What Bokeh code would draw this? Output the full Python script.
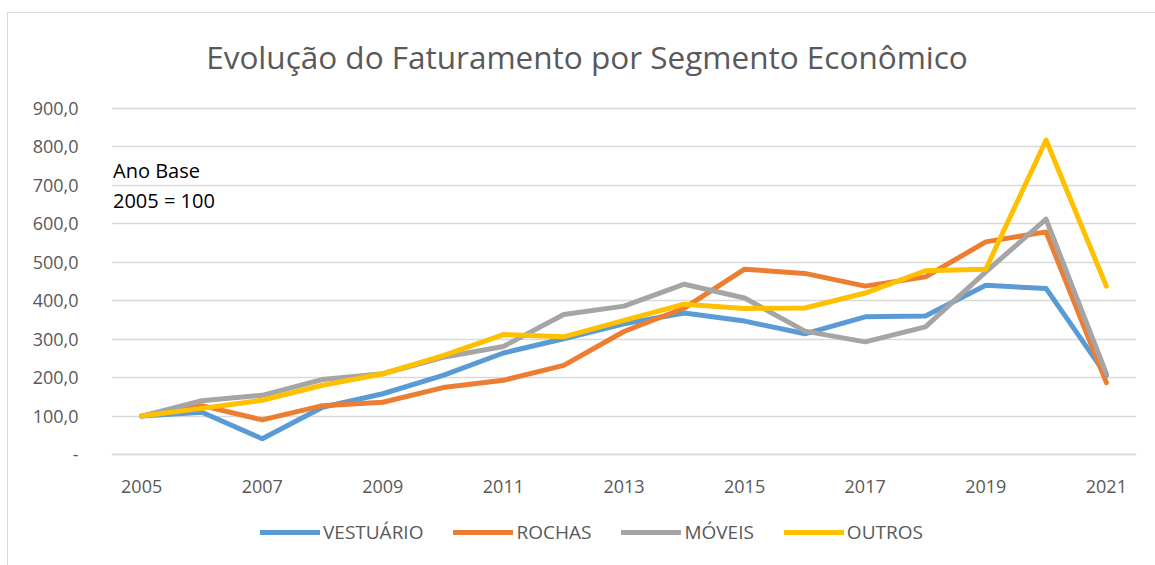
from bokeh.plotting import figure
from bokeh.models import Legend, LegendItem, Label, FixedTicker
from bokeh.embed import file_html
from bokeh.resources import INLINE

years = list(range(2005, 2022))
vestuario = [100, 110, 41, 123, 158, 206, 264, 301, 340, 368, 347, 314, 358, 360, 440, 432, 206]
rochas =    [100, 127, 90, 127, 136, 174, 193, 232, 320, 381, 482, 471, 438, 462, 553, 579, 187]
moveis =    [100, 140, 154, 195, 210, 253, 281, 364, 386, 443, 407, 321, 293, 332, 475, 612, 210]
outros =    [100, 120, 141, 180, 210, 257, 312, 306, 349, 391, 380, 381, 420, 478, 482, 818, 438]

series_names = ["VESTUÁRIO", "ROCHAS", "MÓVEIS", "OUTROS"]
series_values = [vestuario, rochas, moveis, outros]
colors = ["#5B9BD5", "#ED7D31", "#A5A5A5", "#FFC000"]

x_ticks = [2005, 2007, 2009, 2011, 2013, 2015, 2017, 2019, 2021]
x_tick_labels = ["2005", "2007", "2009", "2011", "2013", "2015", "2017", "2019", "2021"]
y_ticks = [0, 100, 200, 300, 400, 500, 600, 700, 800, 900]
y_tick_labels = ["-", "100,0", "200,0", "300,0", "400,0", "500,0", "600,0", "700,0", "800,0", "900,0"]

title_text = "Evolução do Faturamento por Segmento Econômico"
note_lines = ["Ano Base", "2005 = 100"]

FONT = "Open Sans"
TXT = "#595959"

# layout (pixels): plot area 0..900 spans 346 px; frame extends above/below it
PX = 346 / 900.0
FRAME_ABOVE = 441      # px from frame top to value 0
FRAME_BELOW = 106      # px from value 0 to frame bottom
X_LO, X_HI = 2004.5, 2021.5
XPX = 1025 / (X_HI - X_LO)

p = figure(frame_width=1025, frame_height=FRAME_ABOVE + FRAME_BELOW,
           output_backend="svg", toolbar_location=None,
           x_range=(X_LO, X_HI), y_range=(-FRAME_BELOW / PX, FRAME_ABOVE / PX),
           min_border_left=103, min_border_right=19, min_border_top=0, min_border_bottom=5,
           margin=(12, 0, 0, 7))
p.styles = {"border-left": "1px solid #D9D9D9", "border-top": "1px solid #D9D9D9"}
p.outline_line_color = None
p.background_fill_color = "white"
p.border_fill_color = "white"

p.xgrid.visible = False
p.ygrid.grid_line_color = "#D9D9D9"
p.ygrid.grid_line_width = 1.3
p.ygrid.ticker = FixedTicker(ticks=y_ticks)

p.xaxis.fixed_location = 0
p.xaxis.ticker = FixedTicker(ticks=x_ticks)
p.xaxis.major_label_overrides = dict(zip(x_ticks, x_tick_labels))
p.xaxis.axis_line_color = "#D9D9D9"
p.xaxis.axis_line_width = 1.3
p.xaxis.major_tick_line_color = None
p.xaxis.minor_tick_line_color = None
p.xaxis.major_label_text_font = FONT
p.xaxis.major_label_text_font_size = "18px"
p.xaxis.major_label_text_color = TXT
p.xaxis.major_label_standoff = 19

p.yaxis.ticker = FixedTicker(ticks=y_ticks)
p.yaxis.major_label_overrides = dict(zip(y_ticks, y_tick_labels))
p.yaxis.axis_line_color = None
p.yaxis.major_tick_line_color = None
p.yaxis.minor_tick_line_color = None
p.yaxis.major_label_text_font = FONT
p.yaxis.major_label_text_font_size = "18px"
p.yaxis.major_label_text_color = TXT
p.yaxis.major_label_standoff = 27

items = []
for name, vals, col in zip(series_names, series_values, colors):
    r = p.line(years, vals, line_color=col, line_width=5, line_join="round", line_cap="round")
    items.append(LegendItem(label=name, renderers=[r]))

legend = Legend(items=items, orientation="horizontal", location=(149, 15),
                glyph_width=60, glyph_height=20, label_standoff=3, spacing=30,
                padding=0, margin=0, border_line_color=None, background_fill_alpha=0,
                label_text_font=FONT, label_text_font_size="19px", label_text_color=TXT,
                label_height=20)
p.add_layout(legend, "center")

# title centered over the chart area (x pixel 586 of the window, y pixel 56)
p.add_layout(Label(x=X_LO + (586.5 - 111) / XPX, y=(454 - 56) / PX, text=title_text,
                   text_align="center", text_baseline="middle", text_font=FONT,
                   text_font_size="31.5px", text_color=TXT))

p.add_layout(Label(x=X_LO + 1.5 / XPX, y=(454 - 170) / PX, text=note_lines[0], text_align="left",
                   text_baseline="middle", text_font=FONT, text_font_size="20px",
                   text_color="black"))
p.add_layout(Label(x=X_LO + 1.5 / XPX, y=(454 - 200) / PX, text=note_lines[1], text_align="left",
                   text_baseline="middle", text_font=FONT, text_font_size="20px",
                   text_color="black"))

open("out.html", "w").write(file_html(p, INLINE))
